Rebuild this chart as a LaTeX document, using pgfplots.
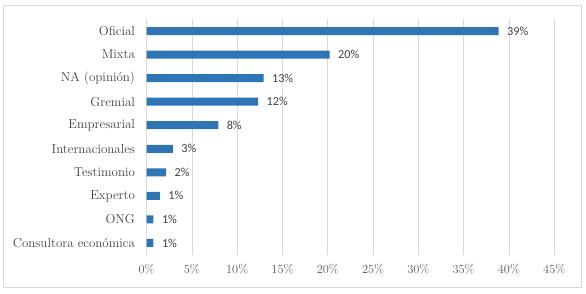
\documentclass[border=0pt]{standalone}
\usepackage{pgfplots}
\pgfplotsset{compat=1.18}
\usepackage{fontspec}
\newfontfamily\lblfont{Carlito}
\definecolor{barblue}{RGB}{46,117,182}
\definecolor{gridgray}{RGB}{217,217,217}
\definecolor{txtgray}{RGB}{64,64,64}
\definecolor{tickgray}{RGB}{89,89,89}
\begin{document}
\begin{tikzpicture}
\path[use as bounding box] (0,0) rectangle (586bp,294bp);
\draw[gridgray, line width=0.8bp] (3.5bp,6.5bp) rectangle (581bp,289bp);
\begin{axis}[
  at={(146.7bp,39.3bp)}, anchor=south west,
  scale only axis, width=407.6bp, height=235.4bp,
  xbar, bar width=8bp,
  xmin=0, xmax=45, ymin=-0.5, ymax=9.5, y dir=reverse,
  xtick={0,5,...,45}, ytick={0,...,9},
  yticklabels={Oficial,Mixta,NA (opinión),Gremial ,Empresarial,Internacionales,Testimonio,Experto,ONG,Consultora económica},
  xticklabel={\pgfmathprintnumber{\tick}\%},
  /pgf/number format/assume math mode=true,
  xmajorgrids, major grid style={gridgray, line width=0.8bp},
  axis line style={draw=none}, tick style={draw=none},
  xticklabel style={font=\fontsize{12.4}{14}\selectfont, text=tickgray, yshift=-6bp},
  yticklabel style={font=\fontsize{13}{15}\selectfont, text=txtgray, xshift=-4bp},
  point meta=explicit symbolic,
  nodes near coords={\pgfplotspointmeta\%},
  every node near coord/.append style={font=\lblfont\fontsize{12.3}{14}\selectfont, text=txtgray, anchor=west, xshift=5bp},
]
\addplot[fill=barblue, draw=none] coordinates {
  (38.85,0) [39]
  (20.2,1) [20]
  (12.9,2) [13]
  (12.3,3) [12]
  (7.9,4) [8]
  (2.9,5) [3]
  (2.15,6) [2]
  (1.45,7) [1]
  (0.75,8) [1]
  (0.75,9) [1]
};
\end{axis}
\end{tikzpicture}
\end{document}
